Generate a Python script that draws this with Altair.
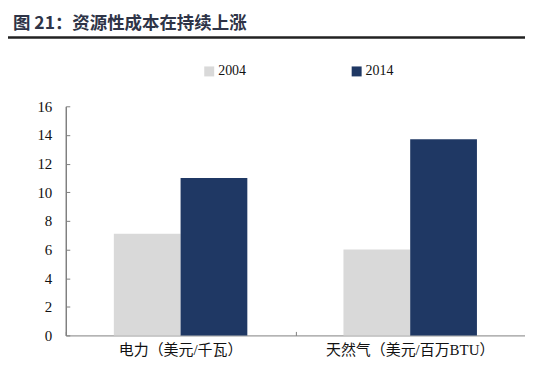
import altair as alt
import pandas as pd

categories = ["电力（美元/千瓦）", "天然气（美元/百万BTU）"]
years = ["2004", "2014"]
values_2004 = [7.1, 6.0]
values_2014 = [11.0, 13.7]
y_ticks = [0, 2, 4, 6, 8, 10, 12, 14, 16]
colors = ["#d9d9d9", "#1f3864"]
title_text = "图 21：资源性成本在持续上涨"

rows = []
for c, v in zip(categories, values_2004):
    rows.append({"cat": c, "year": "2004", "value": v})
for c, v in zip(categories, values_2014):
    rows.append({"cat": c, "year": "2014", "value": v})
df = pd.DataFrame(rows)

W, H = 461, 230
AX = "#808080"
LATIN = "Liberation Serif"
CJK = "Noto Sans CJK SC"
MIXED = "Liberation Serif, Noto Sans CJK SC"

x_scale = alt.Scale(domain=categories, paddingInner=0, paddingOuter=0)
y_scale = alt.Scale(domain=[0, 16], nice=False)

bars = alt.Chart(df).mark_bar().encode(
    x=alt.X("cat:N", sort=categories, title=None, scale=x_scale,
            axis=alt.Axis(labelAngle=0, labelFont=MIXED, labelFontSize=15,
                          labelColor="#111", labelPadding=7, ticks=False,
                          domainColor=AX, domainWidth=1)),
    xOffset=alt.XOffset("year:N", sort=years,
                        scale=alt.Scale(paddingInner=0, paddingOuter=0.72)),
    y=alt.Y("value:Q", title=None, scale=y_scale,
            axis=alt.Axis(values=y_ticks, labelFont=LATIN, labelFontSize=15,
                          labelColor="#111", labelPadding=14, ticks=False,
                          grid=False, domainColor=AX, domainWidth=1.5)),
    color=alt.Color("year:N", sort=years,
                    scale=alt.Scale(domain=years, range=colors),
                    legend=alt.Legend(orient="none", legendX=137, legendY=-42,
                                      direction="horizontal", title=None,
                                      symbolType="square", symbolSize=100,
                                      symbolOpacity=1, symbolStrokeWidth=0,
                                      labelFont=LATIN, labelFontSize=14,
                                      labelColor="#111", labelOffset=2,
                                      columnPadding=104)),
)

ticks_layer = alt.Chart(df).mark_point(opacity=0).encode(
    x=alt.X("cat:N", sort=categories, title=None, scale=x_scale,
            axis=alt.Axis(orient="top", offset=-H, labels=False, domain=False,
                          tickBand="extent", tickSize=4, tickColor=AX)),
    y=alt.Y("value:Q", title=None, scale=y_scale,
            axis=alt.Axis(orient="right", offset=-W, values=y_ticks,
                          labels=False, domain=False, grid=False,
                          tickSize=4, tickColor=AX)),
)

one = alt.Data(values=[{}])
title_mark = alt.Chart(one).mark_text(
    text=title_text, font=CJK, fontSize=17.5, fontWeight="bold",
    color="#2e3447", align="left", baseline="middle",
).encode(x=alt.value(-53), y=alt.value(-83))

underline = alt.Chart(one).mark_rule(color="#222", strokeWidth=2.5).encode(
    x=alt.value(-60), x2=alt.value(W + 10), y=alt.value(-69)
)

chart = (
    alt.layer(bars, ticks_layer, title_mark, underline)
    .resolve_axis(x="independent", y="independent")
    .properties(width=W, height=H, autosize=alt.AutoSizeParams(type="none"),
                padding={"left": 58, "top": 98, "right": 0, "bottom": 22},
                background="white")
    .configure_view(stroke=None)
)

chart.save("out.html", embed_options={"renderer": "svg", "actions": False})
